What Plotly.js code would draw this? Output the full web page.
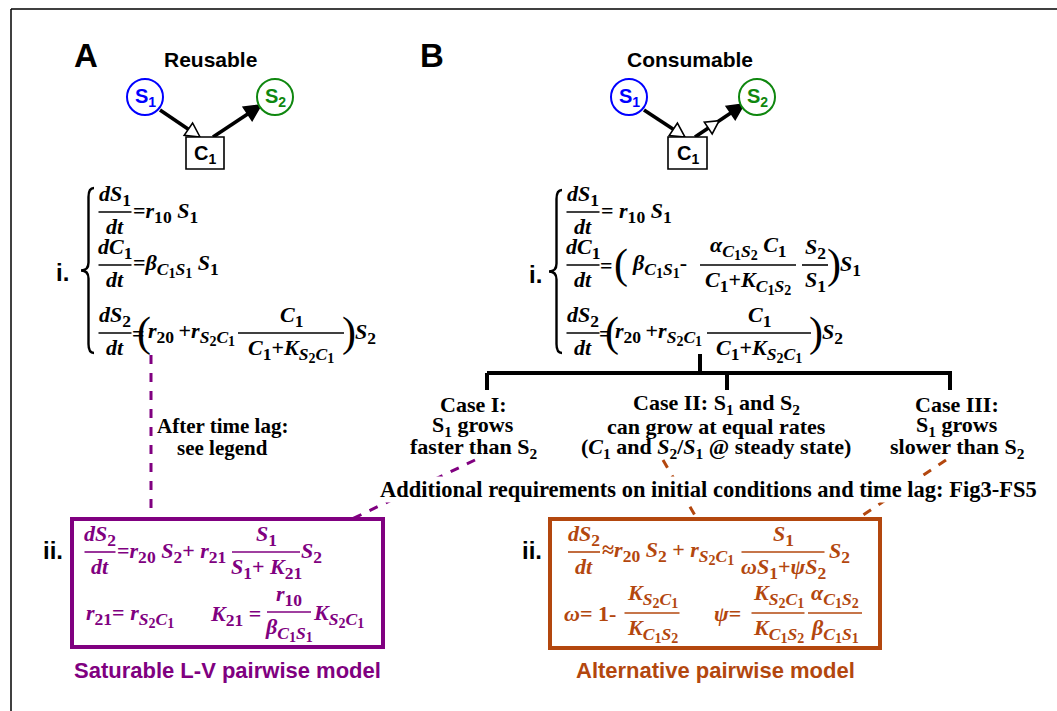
<!DOCTYPE html>
<html><head><meta charset="utf-8">
<script src="https://cdn.plot.ly/plotly-3.0.1.min.js"></script>
<style>html,body{margin:0;padding:0;background:#fff;} #chart{width:1057px;height:711px;}</style>
</head><body><div id="chart"></div>
<script>
// ---- content (text) ----
const panelLetters = ['A', 'B'];
const panelTitles = ['Reusable', 'Consumable'];
const speciesLabels = ['S<sub>1</sub>', 'S<sub>2</sub>'];
const mediatorLabel = 'C<sub>1</sub>';
const stepLabels = ['i.', 'ii.'];
const caseI = ['Case I:', 'S<sub>1</sub> grows', 'faster than S<sub>2</sub>'];
const caseII = ['Case II: S<sub>1</sub> and S<sub>2</sub>', 'can grow at equal rates', '(<i>C</i><sub>1</sub> and <i>S</i><sub>2</sub>/<i>S</i><sub>1</sub> @ steady state)'];
const caseIII = ['Case III:', 'S<sub>1</sub> grows', 'slower than S<sub>2</sub>'];
const lagNote = ['After time lag:', 'see legend'];
const requirementNote = 'Additional requirements on initial conditions and time lag: Fig3-FS5';
const modelNames = ['Saturable L-V pairwise model', 'Alternative pairwise model'];

// ---- symbols ----
const sub = s => '<sub><span style="font-size:114%">' + s + '</span></sub>';
const S1 = '<i>S</i>' + sub('1'), S2 = '<i>S</i>' + sub('2'), C1 = '<i>C</i>' + sub('1');
const S2C1 = sub('<i>S</i>' + sub('2') + '<i>C</i>' + sub('1'));
const C1S1 = sub('<i>C</i>' + sub('1') + '<i>S</i>' + sub('1'));
const C1S2 = sub('<i>C</i>' + sub('1') + '<i>S</i>' + sub('2'));
const dS1 = '<i>dS</i>' + sub('1'), dS2 = '<i>dS</i>' + sub('2'), dC1 = '<i>dC</i>' + sub('1'), dt = '<i>dt</i>';
const TH = '\u2009';

const SERIF = 'Liberation Serif, Times New Roman, serif';
const SANS = 'Liberation Sans, Arial, sans-serif';
const PURPLE = '#800080', ORANGE = '#b3470e', BLUE = '#0000ff', GREEN = '#0f870f', BLACK = '#000';
const EQ = 22, TXT = 22;

const annotations = [], shapes = [];
function ann(x, y, text, o = {}) {
  annotations.push({x, y, xref: 'x', yref: 'y', text, showarrow: false,
    xanchor: o.xa || 'left', yanchor: o.ya || 'middle', borderpad: 0,
    bgcolor: o.bg || 'rgba(0,0,0,0)',
    font: {family: o.family || SERIF, size: o.size || EQ, color: o.color || BLACK, weight: o.weight || 'bold'}});
}
function line(x0, y0, x1, y1, color, width, dash) {
  shapes.push({type: 'line', xref: 'x', yref: 'y', x0, y0, x1, y1, line: {color, width, dash: dash || 'solid'}});
}
function frac(cx, y, num, den, w, color) {
  ann(cx, y - 1, num, {xa: 'center', ya: 'bottom', color});
  ann(cx, y + 1, den, {xa: 'center', ya: 'top', color});
  line(cx - w / 2, y, cx + w / 2, y, color || BLACK, 1.6);
}
function paren(x, y, ch, color, size) {
  ann(x, y, ch, {xa: 'center', color, size: size || 42, weight: 'normal'});
}
function tri(tx, ty, ux, uy, L, W, fill) {
  const bx = tx - L * ux, by = ty - L * uy;
  const p1 = [bx - W * uy, by + W * ux], p2 = [bx + W * uy, by - W * ux];
  shapes.push({type: 'path', xref: 'x', yref: 'y',
    path: `M ${tx} ${ty} L ${p1[0]} ${p1[1]} L ${p2[0]} ${p2[1]} Z`,
    fillcolor: fill, line: {color: BLACK, width: 1.6}});
}
function arrow(x0, y0, x1, y1, kind, mid) {
  const dx = x1 - x0, dy = y1 - y0, len = Math.hypot(dx, dy), ux = dx / len, uy = dy / len;
  const L = kind === 'open' ? 14 : 16, W = kind === 'open' ? 7.5 : 8;
  line(x0, y0, x1 - L * ux, y1 - L * uy, BLACK, 3.6);
  if (mid) tri(x0 + mid * ux, y0 + mid * uy, ux, uy, 13, 7, '#fff');
  tri(x1, y1, ux, uy, L, W, kind === 'open' ? '#fff' : BLACK);
}
function circleNode(cx, cy, r, label, color) {
  shapes.push({type: 'circle', xref: 'x', yref: 'y', x0: cx - r, x1: cx + r, y0: cy - r, y1: cy + r,
    line: {color, width: 2}, fillcolor: '#fff'});
  ann(cx, cy, label, {xa: 'center', family: SANS, size: 20, color});
}
function boxNode(x0, y0, x1, y1, label) {
  shapes.push({type: 'rect', xref: 'x', yref: 'y', x0, y0, x1, y1, line: {color: BLACK, width: 1.6}, fillcolor: '#fff'});
  ann((x0 + x1) / 2, (y0 + y1) / 2 + 1, label, {xa: 'center', family: SANS, size: 20});
}
function brace(xr, xm, y0, y1) {
  const ym = (y0 + y1) / 2, xc = (xr + xm) / 2 + 1;
  shapes.push({type: 'path', xref: 'x', yref: 'y',
    path: `M ${xr} ${y0} Q ${xc} ${y0} ${xc} ${y0 + 9} L ${xc} ${ym - 8} Q ${xc} ${ym} ${xm} ${ym} Q ${xc} ${ym} ${xc} ${ym + 8} L ${xc} ${y1 - 9} Q ${xc} ${y1} ${xr} ${y1}`,
    line: {color: BLACK, width: 2.4}});
}

// ---- frame ----
line(11, 9, 1057, 9, BLACK, 1.5);
line(11, 9, 11, 711, BLACK, 1.5);

// ---- panel headers & network motifs ----
ann(86, 55, panelLetters[0], {xa: 'center', family: SANS, size: 33});
ann(432, 55, panelLetters[1], {xa: 'center', family: SANS, size: 33});
ann(210, 59, panelTitles[0], {xa: 'center', family: SANS, size: 21});
ann(690, 59, panelTitles[1], {xa: 'center', family: SANS, size: 21});

arrow(160, 110, 200, 137, 'open');
arrow(213, 137, 261, 105, 'filled');
boxNode(186, 137, 224, 169, mediatorLabel);
circleNode(145, 97, 18, speciesLabels[0], BLUE);
circleNode(275, 97, 18, speciesLabels[1], GREEN);

arrow(644, 110, 685, 137, 'open');
arrow(695, 137, 744, 104, 'filled', 29);
boxNode(668, 137, 707, 169, mediatorLabel);
circleNode(629, 97, 18, speciesLabels[0], BLUE);
circleNode(757, 97, 18, speciesLabels[1], GREEN);

// ---- panel A, i ----
ann(62, 272, stepLabels[0], {xa: 'center', family: SANS, size: 24});
brace(94, 81, 188, 353);
frac(115, 212, dS1, dt, 33);
ann(132, 212, '=<i>r</i>' + sub('10') + ' ' + S1);
frac(115, 265, dC1, dt, 33);
ann(132, 265, '=<i>β</i>' + C1S1 + ' ' + S1);
frac(115, 333, dS2, dt, 33);
ann(131, 333, '=');
paren(144, 332, '(');
ann(147, 333, '<i>r</i>' + sub('20') + TH + '+<i>r</i>' + S2C1);
frac(291, 333, C1, C1 + '+<i>K</i>' + S2C1, 106);
paren(349, 332, ')');
ann(354, 333, S2);

// ---- panel B, i ----
ann(535, 274, stepLabels[0], {xa: 'center', family: SANS, size: 24});
brace(562, 549, 190, 353);
frac(583, 212, dS1, dt, 33);
ann(600, 212, '= <i>r</i>' + sub('10') + ' ' + S1);
frac(583, 265, dC1, dt, 33);
ann(599, 265, '=');
paren(621, 264, '(');
ann(631, 265, '<i>β</i>' + C1S1 + '-');
frac(748, 265, '<i>α</i>' + C1S2 + ' ' + C1, C1 + '+<i>K</i>' + C1S2, 96);
frac(815, 265, S2, S1, 26);
paren(834, 264, ')');
ann(839, 265, S1);
frac(583, 333, dS2, dt, 33);
ann(598, 333, '=');
paren(612, 332, '(');
ann(614, 333, '<i>r</i>' + sub('20') + TH + '+<i>r</i>' + S2C1);
frac(759, 333, C1, C1 + '+<i>K</i>' + S2C1, 104);
paren(816, 332, ')');
ann(821, 333, S2);

// ---- case tree ----
line(700, 354, 700, 373, BLACK, 4);
line(487, 373, 952, 373, BLACK, 4);
[487, 727, 950].forEach(x => line(x, 373, x, 390, BLACK, 4));
const caseCenters = [473, 716, 957];
[caseI, caseII, caseIII].forEach((lines, k) => {
  lines.forEach((t, j) => ann(caseCenters[k], 404 + 22 * j, t, {xa: 'center', size: TXT}));
});

// ---- dashed connectors ----
line(151, 355, 151, 519, PURPLE, 3, 'dash');
line(475, 460, 352, 519, PURPLE, 3, 'dash');
line(663, 460, 697, 519, ORANGE, 3, 'dash');
line(946, 460, 857, 519, ORANGE, 3, 'dash');

lagNote.forEach((t, j) => ann(222, 426 + 22 * j, t, {xa: 'center', size: 21}));
ann(708, 489, requirementNote, {xa: 'center', size: 22.5, bg: '#fff'});

// ---- panel A, ii ----
ann(53, 550, stepLabels[1], {xa: 'center', family: SANS, size: 24});
shapes.push({type: 'rect', xref: 'x', yref: 'y', x0: 72, y0: 519, x1: 383, y1: 647, line: {color: PURPLE, width: 4}});
frac(100, 552, dS2, dt, 31, PURPLE);
ann(116, 552, '=<i>r</i>' + sub('20') + ' ' + S2 + '+ <i>r</i>' + sub('21'), {color: PURPLE});
frac(266, 552, S1, S1 + '+ <i>K</i>' + sub('21'), 68, PURPLE);
ann(300, 552, S2, {color: PURPLE});
ann(85, 615, '<i>r</i>' + sub('21') + '= <i>r</i>' + S2C1, {color: PURPLE});
ann(209, 615, '<i>K</i>' + sub('21') + ' =', {color: PURPLE});
frac(289, 612, '<i>r</i>' + sub('10'), '<i>β</i>' + C1S1, 44, PURPLE);
ann(312, 615, '<i>K</i>' + S2C1, {color: PURPLE});
ann(227, 670, modelNames[0], {xa: 'center', family: SANS, size: 22, color: PURPLE});

// ---- panel B, ii ----
ann(532, 550, stepLabels[1], {xa: 'center', family: SANS, size: 24});
shapes.push({type: 'rect', xref: 'x', yref: 'y', x0: 550, y0: 519, x1: 880, y1: 648, line: {color: ORANGE, width: 4}});
frac(584, 552, dS2, dt, 32, ORANGE);
ann(601, 552, '≈<i>r</i>' + sub('20') + ' ' + S2 + ' + <i>r</i>' + S2C1, {color: ORANGE});
frac(783, 552, S1, '<i>ω</i>' + S1 + '+<i>ψ</i>' + S2, 83, ORANGE);
ann(828, 552, S2, {color: ORANGE});
ann(563, 613, '<i>ω</i>= 1-', {color: ORANGE});
frac(652, 613, '<i>K</i>' + S2C1, '<i>K</i>' + C1S2, 55, ORANGE);
ann(713, 613, '<i>ψ</i>=', {color: ORANGE});
frac(778, 613, '<i>K</i>' + S2C1, '<i>K</i>' + C1S2, 53, ORANGE);
frac(835, 613, '<i>α</i>' + C1S2, '<i>β</i>' + C1S1, 54, ORANGE);
ann(715, 670, modelNames[1], {xa: 'center', family: SANS, size: 22, color: ORANGE});

Plotly.newPlot('chart', [], {
  width: 1057, height: 711, margin: {l: 0, r: 0, t: 0, b: 0},
  paper_bgcolor: '#fff', plot_bgcolor: '#fff', showlegend: false,
  xaxis: {range: [0, 1057], visible: false, fixedrange: true},
  yaxis: {range: [711, 0], visible: false, fixedrange: true},
  annotations, shapes
}, {staticPlot: true});
</script></body></html>
